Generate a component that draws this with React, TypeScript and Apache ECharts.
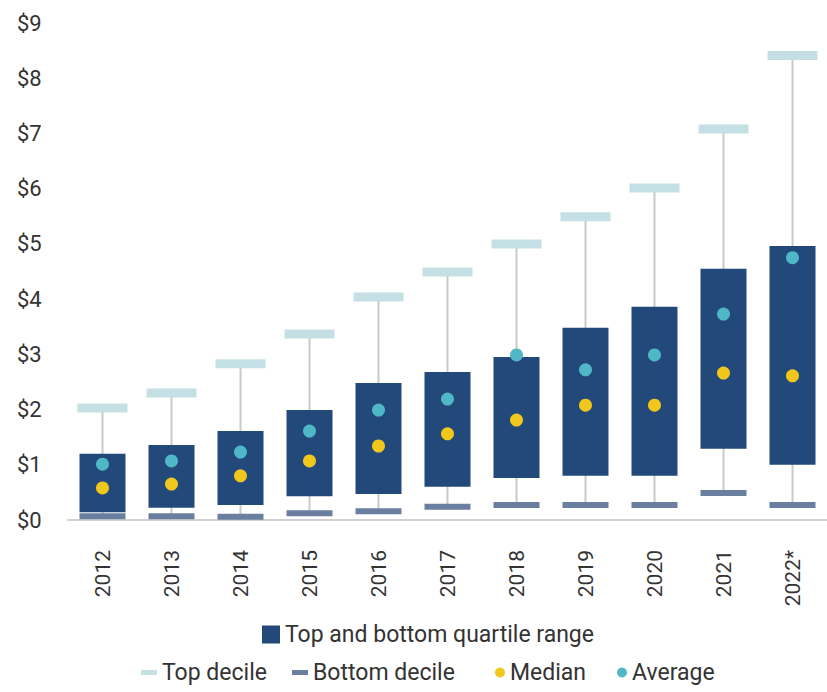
import React, { useEffect, useRef } from "react";
import * as echarts from "echarts";

const categories = ["2012", "2013", "2014", "2015", "2016", "2017", "2018", "2019", "2020", "2021", "2022*"];
const topDecile = [2.03, 2.3, 2.83, 3.37, 4.04, 4.49, 5.0, 5.49, 6.01, 7.08, 8.41];
const topQuartile = [1.2, 1.36, 1.61, 1.99, 2.48, 2.68, 2.95, 3.48, 3.86, 4.55, 4.96];
const bottomQuartile = [0.14, 0.22, 0.27, 0.43, 0.47, 0.6, 0.76, 0.8, 0.8, 1.29, 1.0];
const bottomDecile = [0.07, 0.07, 0.06, 0.12, 0.16, 0.24, 0.27, 0.27, 0.27, 0.49, 0.27];
const median = [0.58, 0.65, 0.8, 1.07, 1.34, 1.56, 1.81, 2.08, 2.08, 2.66, 2.61];
const average = [1.01, 1.07, 1.23, 1.61, 1.99, 2.19, 2.99, 2.72, 2.99, 3.73, 4.75];
const yTicks = [0, 1, 2, 3, 4, 5, 6, 7, 8, 9];

const C_BOX = "#22497a";
const C_TOP = "#c5e0e4";
const C_BOT = "#6a7f9f";
const C_MED = "#f1c71c";
const C_AVG = "#4fb7c5";
const C_WHISK = "#c9c9c9";
const FONT = "Roboto";
const LEG_TEXT = { fontFamily: FONT, fontSize: 23, color: "#333333" };

function legendItem(name: string, icon: string, left: number, top: number, w: number, h: number) {
  return {
    data: [{ name, icon }],
    left,
    top,
    padding: 0,
    itemWidth: w,
    itemHeight: h,
    itemGap: 0,
    textStyle: LEG_TEXT,
    selectedMode: false,
  };
}

export default function App() {
  const ref = useRef<HTMLDivElement>(null);
  useEffect(() => {
    if (!ref.current) return;
    const chart = echarts.init(ref.current, null, { renderer: "svg" });
    const boxData = categories.map((_, i) => [i, bottomQuartile[i], topQuartile[i]]);
    const whiskData = categories.map((_, i) => [i, bottomDecile[i], topDecile[i]]);
    chart.setOption({
      animation: false,
      backgroundColor: "#ffffff",
      grid: { left: 68, right: -27.5, top: 23, bottom: 172, containLabel: false },
      xAxis: {
        type: "category",
        data: categories,
        boundaryGap: true,
        axisLine: { show: true, lineStyle: { color: "#d0d0d0", width: 2 } },
        axisTick: { show: false },
        axisLabel: {
          rotate: 90,
          margin: 30,
          fontFamily: FONT,
          fontSize: 21,
          color: "#333333",
        },
      },
      yAxis: {
        type: "value",
        min: 0,
        max: 9,
        interval: 1,
        splitLine: { show: false },
        axisLine: { show: false },
        axisTick: { show: false },
        axisLabel: {
          align: "left",
          margin: 51,
          fontFamily: FONT,
          fontSize: 22,
          color: "#333333",
          formatter: (v: number) => (yTicks.includes(v) ? "$" + v : ""),
        },
      },
      legend: [
        legendItem("Top and bottom quartile range", "rect", 262, 623, 18, 18),
        legendItem("Top decile", "path://M0,0H16V5H0Z", 141, 661, 16, 10),
        legendItem("Bottom decile", "path://M0,0H16V5H0Z", 292, 661, 16, 10),
        legendItem("Median", "circle", 495, 661, 10, 10),
        legendItem("Average", "circle", 617, 661, 10, 10),
      ],
      series: [
        {
          name: "whisker",
          type: "custom",
          data: whiskData,
          encode: { x: 0, y: [1, 2] },
          z: 1,
          renderItem: (params: any, api: any) => {
            const i = api.value(0);
            const p1 = api.coord([i, api.value(2)]);
            const p2 = api.coord([i, api.value(1)]);
            return {
              type: "line",
              shape: { x1: p1[0], y1: p1[1], x2: p2[0], y2: p2[1] },
              style: { stroke: C_WHISK, lineWidth: 2 },
            };
          },
        },
        {
          name: "Top and bottom quartile range",
          type: "custom",
          data: boxData,
          encode: { x: 0, y: [1, 2] },
          itemStyle: { color: C_BOX },
          z: 2,
          renderItem: (params: any, api: any) => {
            const i = api.value(0);
            const p1 = api.coord([i, api.value(2)]);
            const p2 = api.coord([i, api.value(1)]);
            const w = 46;
            return {
              type: "rect",
              shape: { x: p1[0] - w / 2, y: p1[1], width: w, height: p2[1] - p1[1] },
              style: { fill: C_BOX },
            };
          },
        },
        {
          name: "Top decile",
          type: "scatter",
          data: topDecile,
          symbol: "rect",
          symbolSize: [50, 9],
          itemStyle: { color: C_TOP, opacity: 1 },
          z: 3,
        },
        {
          name: "Bottom decile",
          type: "scatter",
          data: bottomDecile,
          symbol: "rect",
          symbolSize: [46, 6],
          itemStyle: { color: C_BOT, opacity: 1 },
          z: 3,
        },
        {
          name: "Median",
          type: "scatter",
          data: median,
          symbol: "circle",
          symbolSize: 13,
          itemStyle: { color: C_MED, opacity: 1 },
          z: 4,
        },
        {
          name: "Average",
          type: "scatter",
          data: average,
          symbol: "circle",
          symbolSize: 13,
          itemStyle: { color: C_AVG, opacity: 1 },
          z: 4,
        },
      ],
    });
    return () => chart.dispose();
  }, []);
  return (
    <div
      ref={ref}
      style={{ position: "absolute", left: 0, top: 0, width: 827, height: 692, overflow: "hidden" }}
    />
  );
}
